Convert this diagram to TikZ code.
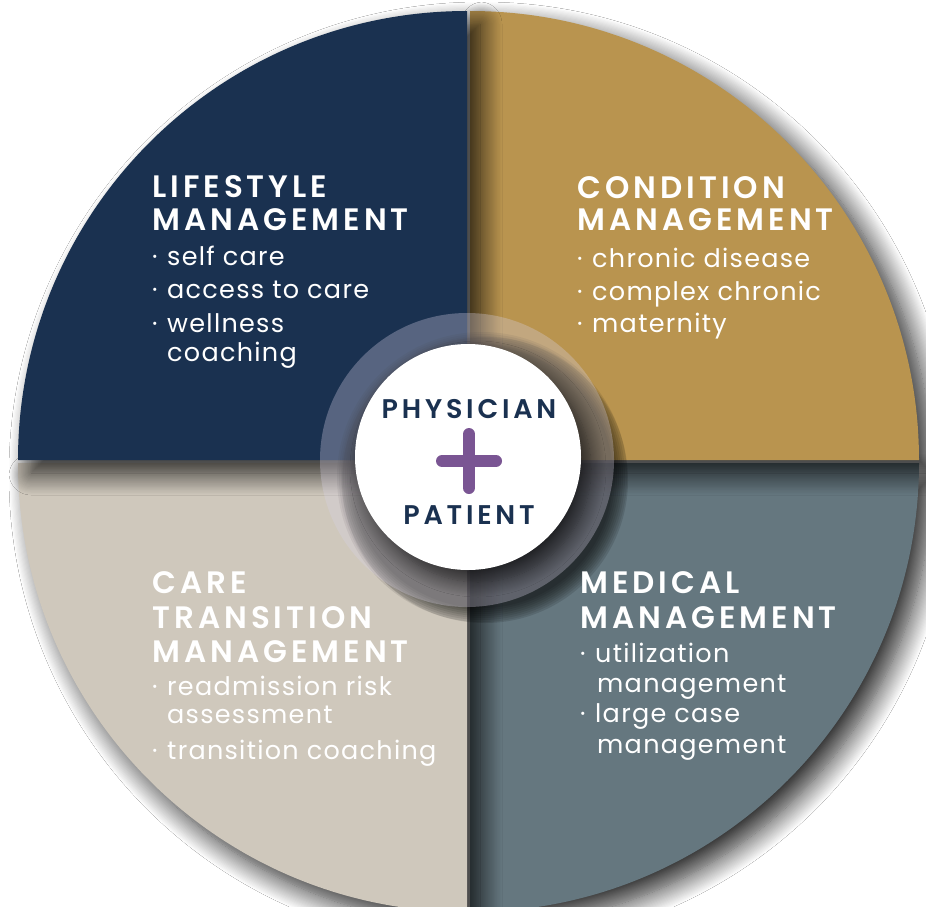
\documentclass[tikz,border=0pt]{standalone}
\usepackage{fontspec}
\setmainfont{Poppins}
\newfontfamily\headfont{Poppins}[UprightFont={* SemiBold},LetterSpace=13]
\newfontfamily\hubfont{Poppins}[UprightFont={* SemiBold},LetterSpace=14]
\newfontfamily\itemfont{Poppins}[LetterSpace=5]
\usetikzlibrary{shadows.blur}
\definecolor{LifeNavy}{HTML}{1A3150}
\definecolor{CondGold}{HTML}{B9944F}
\definecolor{CareStone}{HTML}{CFC8BC}
\definecolor{MedSlate}{HTML}{65777F}
\definecolor{PlusPurple}{HTML}{7A5593}
\definecolor{RingTint}{HTML}{D8D2E6}

\newcommand{\dotmark}{\makebox[15pt][l]{·}}

\begin{document}
\begin{tikzpicture}[x=1pt,y=-1pt,line join=round,
    quad/.style={blur shadow={shadow xshift=13pt,shadow yshift=-13pt,
        shadow blur radius=22pt,shadow blur steps=20,shadow opacity=85}},
    head/.style={anchor=base west,inner sep=0pt,text=white,
        font=\headfont\fontsize{31}{34}\selectfont},
    item/.style={anchor=base west,inner sep=0pt,text=white,
        font=\itemfont\fontsize{25.5}{30}\selectfont},
    centre/.style={anchor=base,inner sep=0pt,text=LifeNavy,
        font=\hubfont\fontsize{27}{30}\selectfont},
    plus/.style={PlusPurple,line width=12pt,line cap=round}]

% Hub of the wheel (pixel units, y grows downwards)
\def\cx{467}
\def\cy{460}
\def\R{449}
\def\g{3}      % gap between the quarters
\def\ring{147} % translucent ring
\def\core{113} % white disc

\useasboundingbox (0,0) rectangle (926,907);
\fill[white] (0,0) rectangle (926,907);

\coordinate (Hub) at (\cx,\cy);

% ---- QUARTERS ----
% drawn back to front so every one throws its shadow on the next
\fill[MedSlate,quad] (\cx+\g,\cy+\g) -- ++(\R,0)
    arc[start angle=0,end angle=90,radius=\R] -- cycle;
\fill[CareStone,quad] (\cx,\cy+\g) -- ++(0,\R)
    arc[start angle=90,end angle=180,radius=\R] -- cycle;
\fill[CondGold,quad] (\cx+\g,\cy) -- ++(0,-\R)
    arc[start angle=270,end angle=360,radius=\R] -- cycle;
\fill[LifeNavy,quad] (Hub) -- ++(-\R,0)
    arc[start angle=180,end angle=270,radius=\R] -- cycle;

% ---- CENTRE ----
% shadow of the ring, thrown down and to the right
\fill[black,opacity=0.12] (\cx+18,\cy+20) circle[radius=\ring-4];
\foreach \k in {1,...,8}
  \fill[black,opacity=0.09] (\cx+15,\cy+17) circle[radius=\ring-2*\k];
\fill[RingTint,fill opacity=0.32] (Hub) circle[radius=\ring];
\fill[white,blur shadow={shadow xshift=10pt,shadow yshift=-12pt,
    shadow blur radius=15pt,shadow blur steps=14,shadow opacity=65}]
    (\cx+1,\cy-3) circle[radius=\core];

\node[centre] (doc) at (469,418) {PHYSICIAN};
\node[centre] (pat) at (469,524) {PATIENT};
\coordinate (PlusC) at (469,461);
\draw[plus] (PlusC) ++(-27,0) -- ++(54,0);
\draw[plus] (PlusC) ++(0,-27) -- ++(0,54);

% ---- LIFESTYLE ----
\node[head] (lifeA) at (152,197) {LIFESTYLE};
\node[head] (lifeB) at (152,230) {MANAGEMENT};
\node[item] (lifeC) at (152,265) {\dotmark self care};
\node[item] (lifeD) at (152,298) {\dotmark access to care};
\node[item] (lifeE) at (152,332) {\dotmark wellness};
\node[item] (lifeF) at (167,361) {coaching};

% ---- CONDITION ----
\node[head] (condA) at (577,198) {CONDITION};
\node[head] (condB) at (577,230) {MANAGEMENT};
\node[item] (condC) at (577,267) {\dotmark chronic disease};
\node[item] (condD) at (577,300) {\dotmark complex chronic};
\node[item] (condE) at (577,332) {\dotmark maternity};

% ---- CARE TRANSITION ----
\node[head] (careA) at (152,593) {CARE};
\node[head] (careB) at (152,628) {TRANSITION};
\node[head] (careC) at (152,662) {MANAGEMENT};
\node[item] (careD) at (152,695) {\dotmark readmission risk};
\node[item] (careE) at (167,723) {assessment};
\node[item] (careF) at (152,759) {\dotmark transition coaching};

% ---- MEDICAL ----
\node[head] (medA) at (580,593) {MEDICAL};
\node[head] (medB) at (580,628) {MANAGEMENT};
\node[item] (medC) at (580,662) {\dotmark utilization};
\node[item] (medD) at (597,692) {management};
\node[item] (medE) at (580,722) {\dotmark large case};
\node[item] (medF) at (597,753) {management};

\end{tikzpicture}
\end{document}
